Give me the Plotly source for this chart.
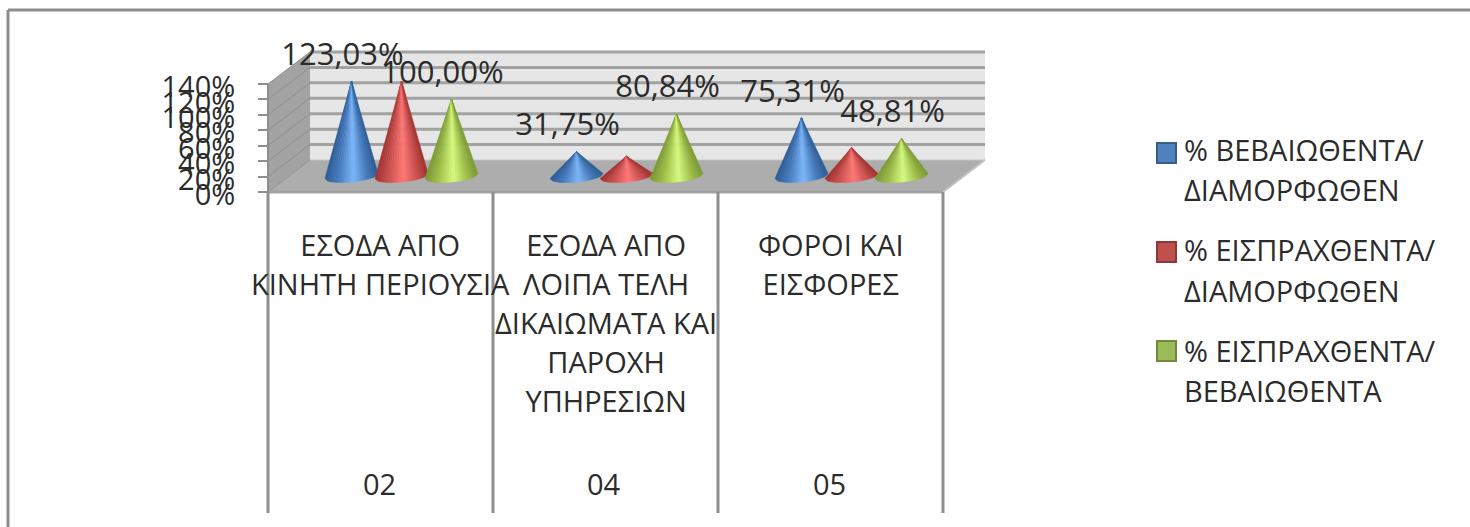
import plotly.graph_objects as go

# ---- data ----
category_codes = ["02", "04", "05"]
category_lines = [
    ["ΕΣΟΔΑ ΑΠΟ", "ΚΙΝΗΤΗ ΠΕΡΙΟΥΣΙΑ"],
    ["ΕΣΟΔΑ ΑΠΟ", "ΛΟΙΠΑ ΤΕΛΗ", "ΔΙΚΑΙΩΜΑΤΑ ΚΑΙ", "ΠΑΡΟΧΗ", "ΥΠΗΡΕΣΙΩΝ"],
    ["ΦΟΡΟΙ ΚΑΙ", "ΕΙΣΦΟΡΕΣ"],
]
series_names = [
    ["% ΒΕΒΑΙΩΘΕΝΤΑ/", "ΔΙΑΜΟΡΦΩΘΕΝ"],
    ["% ΕΙΣΠΡΑΧΘΕΝΤΑ/", "ΔΙΑΜΟΡΦΩΘΕΝ"],
    ["% ΕΙΣΠΡΑΧΘΕΝΤΑ/", "ΒΕΒΑΙΩΘΕΝΤΑ"],
]
blue_values = [123.03, 31.75, 75.31]
red_values = [123.03, 25.67, 36.76]
green_values = [100.00, 80.84, 48.81]
series_values = [blue_values, red_values, green_values]
series_labelled = [True, False, True]
tick_values = [0, 20, 40, 60, 80, 100, 120, 140]

# ---- styling / geometry ----
W, H = 1470, 527
FONT = "Open Sans"
INK = "#2b2b2b"
X0_PX, Y0_PX = 268, 192       # where category 0 / value 0 sit on the page
PX_PER_CAT = 225.0
PX_PER_VAL = 108 / 140.0
DEPTH_X, DEPTH_Y = 42, 32     # oblique depth of the 3D box, px
LINE_GREY = "#a2a2a2"
EDGE_GREY = "#8e8e8e"
swatch = ["#4f81bd", "#c0504d", "#9bbb59"]
swatch_edge = ["#385d8a", "#8c3836", "#71893f"]
swatch_top_px = [143, 242, 341]
shade = [
    [(-1, (0x2c, 0x5c, 0x94)), (-0.5, (0x46, 0x7c, 0xc0)), (0.1, (0x7c, 0xb6, 0xfa)),
     (0.6, (0x46, 0x7c, 0xc0)), (1, (0x2c, 0x5c, 0x94))],
    [(-1, (0xa0, 0x32, 0x30)), (-0.5, (0xcc, 0x50, 0x4e)), (0.1, (0xff, 0x78, 0x76)),
     (0.6, (0xcc, 0x50, 0x4e)), (1, (0xa0, 0x32, 0x30))],
    [(-1, (0x7b, 0x98, 0x36)), (-0.5, (0xa0, 0xc0, 0x4a)), (0.1, (0xd8, 0xfa, 0x80)),
     (0.6, (0xa0, 0xc0, 0x4a)), (1, (0x7b, 0x98, 0x36))],
]
TEXT_SIZE = 29


def dx(px):
    return px / PX_PER_CAT


def dy(px):
    return px / PX_PER_VAL


def shade_at(stops, u):
    for (a, ca), (b, cb) in zip(stops, stops[1:]):
        if u <= b:
            f = (u - a) / (b - a)
            return "rgb(%d,%d,%d)" % tuple(round(p + (q - p) * f) for p, q in zip(ca, cb))
    return "rgb(%d,%d,%d)" % stops[-1][1]


fig = go.Figure()


def poly(xs, ys, fill):
    fig.add_trace(go.Scatter(x=xs, y=ys, mode="lines", fill="toself", fillcolor=fill,
                             line=dict(width=0), hoverinfo="skip", showlegend=False))


def line(xs, ys, color, width):
    fig.add_trace(go.Scatter(x=xs, y=ys, mode="lines", line=dict(color=color, width=width),
                             hoverinfo="skip", showlegend=False))


n = len(category_codes)
top = tick_values[-1]
bx, by = dx(DEPTH_X), dy(DEPTH_Y)

# back wall, side wall, floor
poly([bx, n + bx, n + bx, bx, bx], [by, by, top + by, top + by, by], "#e6e6e6")
poly([0, bx, bx, 0, 0], [0, by, top + by, top, 0], "#a3a3a3")
poly([0, n, n + bx, bx, 0], [0, 0, by, by, 0], "#adadad")

# gridlines on side wall and back wall
for t in tick_values:
    line([0, bx], [t, t + by], "#8f8f8f", 1)
    if t > 0:
        line([bx, n + bx], [t + by, t + by], LINE_GREY, 3)
line([bx, n + bx], [by, by], "#c8c8c8", 1)

# front edge of the floor, and the category table lines
line([0, n], [0, 0], LINE_GREY, 3)
line([n, n + bx], [0, by], "#c4c4c4", 2)
for i in range(n + 1):
    line([i, i], [0, dy(Y0_PX - 513)], EDGE_GREY, 3)
line([0, 0], [0, top], EDGE_GREY, 2)

# cones: each cone is a fan of wedges from its apex, shaded round the cone
HALF_W, ELL_B, TILT, BASE_UP = 26.5, 6.0, 2.5, 16.0
STEPS = 22
SPACING = 50.0
for s, vals in enumerate(series_values):
    for c, v in enumerate(vals):
        xc = c + 0.5 + dx(DEPTH_X / 2 + (s - 1) * SPACING)
        apex_y = v + dy(BASE_UP)
        base = []
        for k in range(STEPS + 1):
            u = -1 + 2 * k / STEPS
            bottom = ELL_B * (1 - u * u) ** 0.5
            base.append((u, xc + dx(HALF_W * u), dy(BASE_UP - bottom + TILT * u)))
        for (u1, x1, y1), (u2, x2, y2) in zip(base, base[1:]):
            col = shade_at(shade[s], (u1 + u2) / 2)
            fig.add_trace(go.Scatter(
                x=[xc, x1, x2, xc], y=[apex_y, y1, y2, apex_y], mode="lines",
                fill="toself", fillcolor=col, line=dict(width=0.6, color=col),
                hoverinfo="skip", showlegend=False))

# data labels
for s, vals in enumerate(series_values):
    if not series_labelled[s]:
        continue
    fig.add_trace(go.Scatter(
        x=[c + 0.5 + dx(DEPTH_X / 2 + (s - 1) * SPACING - 9) for c in range(n)],
        y=[v + dy(BASE_UP + 24) for v in vals],
        text=[f"{v:.2f}%".replace(".", ",") for v in vals],
        mode="text", textposition="middle center",
        textfont=dict(family=FONT, size=31, color=INK),
        cliponaxis=False, hoverinfo="skip", showlegend=False))


def span(t):
    return f'<span style="font-size:{TEXT_SIZE}px">{t}</span>'


# legend entries (their colour squares are drawn below, level with each first line)
for s, parts in enumerate(series_names):
    fig.add_trace(go.Scatter(
        x=[None], y=[None], mode="markers",
        marker=dict(symbol="square", size=1, color="rgba(0,0,0,0)"),
        name="<br>".join(span(p) for p in parts),
        legendgroup=str(s)))

annots = []
for c, lines in enumerate(category_lines):
    annots.append(dict(x=c + 0.5, y=dy(Y0_PX - 222.5), xref="x", yref="y", xanchor="center",
                       yanchor="top", align="center", showarrow=False,
                       text="<br>".join(span(t) for t in lines),
                       font=dict(family=FONT, size=30, color=INK)))
    annots.append(dict(x=c + 0.5 + dx(-1.5), y=dy(Y0_PX - 483), xref="x", yref="y", xanchor="center",
                       yanchor="middle", showarrow=False, text=category_codes[c],
                       font=dict(family=FONT, size=TEXT_SIZE, color=INK)))

x_lo = -X0_PX / PX_PER_CAT
x_hi = (W - X0_PX) / PX_PER_CAT
y_lo = -(H - Y0_PX) / PX_PER_VAL
y_hi = Y0_PX / PX_PER_VAL

shapes = [
    dict(type="line", xref="paper", yref="paper", x0=8 / W, x1=1, y0=1 - 10 / H, y1=1 - 10 / H,
         line=dict(color="#8c8c8c", width=3), layer="below"),
    dict(type="line", xref="paper", yref="paper", x0=8 / W, x1=8 / W, y0=0, y1=1 - 10 / H,
         line=dict(color="#8c8c8c", width=3), layer="below"),
]
for s, top_px in enumerate(swatch_top_px):
    shapes.append(dict(type="rect", xref="paper", yref="paper",
                       x0=1157 / W, x1=1176 / W, y0=1 - (top_px + 20) / H, y1=1 - top_px / H,
                       fillcolor=swatch[s], line=dict(color=swatch_edge[s], width=2)))

fig.update_layout(
    width=W, height=H, margin=dict(l=0, r=0, t=0, b=0, autoexpand=False),
    paper_bgcolor="white", plot_bgcolor="white",
    font=dict(family=FONT, color=INK),
    xaxis=dict(range=[x_lo, x_hi], domain=[0, 1], visible=False, fixedrange=True),
    yaxis=dict(range=[y_lo, y_hi], domain=[0, 1], anchor="free", position=X0_PX / W,
               tickmode="array", tickvals=tick_values, ticktext=[f"{t}%" for t in tick_values],
               showgrid=False, zeroline=False, showline=False, ticks="outside", ticklen=10,
               tickwidth=2, tickcolor=EDGE_GREY, ticklabelstandoff=17, ticklabelshift=3,
               tickfont=dict(family=FONT, size=29, color=INK), fixedrange=True),
    legend=dict(x=1144 / W, y=1 - 122 / H, xanchor="left", yanchor="top",
                font=dict(family=FONT, size=31, color=INK), tracegroupgap=17,
                bgcolor="rgba(0,0,0,0)", itemclick=False, itemdoubleclick=False),
    annotations=annots,
    shapes=shapes,
)

fig.write_html("out.html", config=dict(displayModeBar=False),
               post_script="document.body.style.margin='0';document.documentElement.style.overflow='hidden';")
